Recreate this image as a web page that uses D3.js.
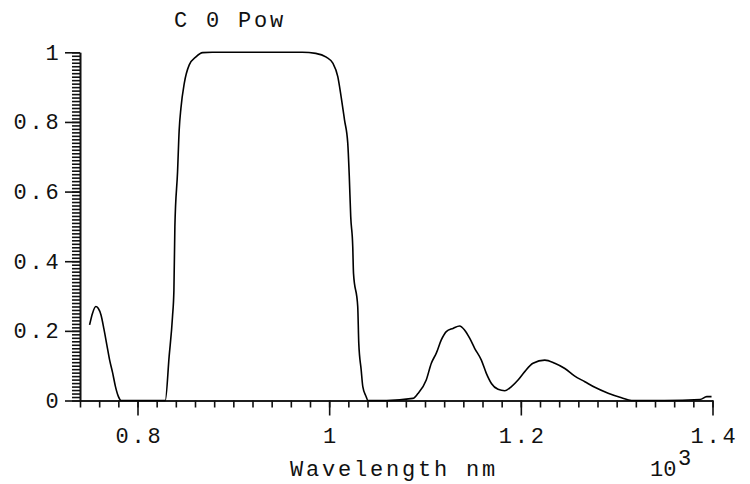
<!DOCTYPE html>
<html>
<head>
<meta charset="utf-8">
<script src="https://cdn.jsdelivr.net/npm/d3@7"></script>
<style>
  body { margin: 0; background: #fff; }
  text { font-family: "Liberation Mono", "Courier New", monospace; fill: #111; }
</style>
</head>
<body>
<div class="chart"></div>
<script>
// Spectral power curve (wavelength in units of 10^3 nm)

// Data
var wavelength = [0.75, 0.753, 0.7565, 0.759, 0.762, 0.765, 0.768, 0.771, 0.774, 0.777, 0.78, 0.783,
  0.80, 0.829, 0.833, 0.8365, 0.838, 0.839, 0.8418, 0.8435, 0.8453, 0.8488, 0.854, 0.861, 0.868, 0.878,
  0.93, 0.972, 0.986, 0.997, 1.004, 1.009, 1.0125, 1.016, 1.0194, 1.021, 1.0225, 1.0246, 1.0254, 1.0298,
  1.0309, 1.0334, 1.0351, 1.0386, 1.0403, 1.06, 1.0873, 1.0926, 1.1013, 1.1066, 1.1118, 1.117, 1.1222,
  1.1292, 1.1361, 1.1414, 1.1466, 1.1518, 1.1588, 1.164, 1.1693, 1.1762, 1.1832, 1.1902, 1.1971, 1.2041,
  1.2127, 1.225, 1.2354, 1.2459, 1.2563, 1.2668, 1.2772, 1.2911, 1.3051, 1.3155, 1.35, 1.387, 1.394, 1.399];
var power = [0.217, 0.25, 0.27, 0.265, 0.245, 0.205, 0.16, 0.115, 0.08, 0.04, 0.012, 0.0,
  0.0, 0.0, 0.126, 0.24, 0.317, 0.499, 0.657, 0.777, 0.839, 0.911, 0.964, 0.987, 0.999, 1.0,
  1.0, 1.0, 0.997, 0.986, 0.968, 0.93, 0.872, 0.806, 0.739, 0.643, 0.528, 0.442, 0.365, 0.27,
  0.164, 0.088, 0.04, 0.011, 0.0, 0.0, 0.006, 0.02, 0.059, 0.107, 0.136, 0.174, 0.198,
  0.207, 0.214, 0.202, 0.179, 0.15, 0.116, 0.078, 0.049, 0.032, 0.028, 0.04, 0.059, 0.083,
  0.107, 0.116, 0.107, 0.092, 0.07, 0.054, 0.038, 0.021, 0.008, 0.0, 0.0, 0.003, 0.011, 0.011];

var xMajorTicks = [0.8, 1.0, 1.2, 1.4];
var xTickLabels = ["0.8", "1", "1.2", "1.4"];
var yMajorTicks = [0, 0.2, 0.4, 0.6, 0.8, 1];
var yTickLabels = ["0", "0.2", "0.4", "0.6", "0.8", "1"];

var titleText = "C 0 Pow";
var xLabelText = "Wavelength nm";

var svgWidth = 750;
var svgHeight = 484;

var svg = d3.select(".chart")
  .append("svg")
  .attr("width", svgWidth)
  .attr("height", svgHeight);

svg.append("rect")
  .attr("width", svgWidth)
  .attr("height", svgHeight)
  .attr("fill", "#fff");

// Scales
var xLinearScale = d3.scaleLinear()
  .domain([0.74, 1.4])
  .range([80, 712.5]);

var yLinearScale = d3.scaleLinear()
  .domain([0, 1])
  .range([400.5, 52.3]);

var fontSize = 22;
var spacing = 2.8;

// Minor ticks
var xMinor = d3.range(0, 34).map(i => 0.74 + i * 0.02);
var yMinor = d3.range(0, 101).map(i => i * 0.01);

svg.append("g")
  .attr("class", "minor")
  .attr("transform", "translate(0, 400.5)")
  .call(d3.axisBottom(xLinearScale).tickValues(xMinor).tickSize(7).tickSizeOuter(0).tickFormat(""));

svg.append("g")
  .attr("class", "minor")
  .attr("transform", "translate(80, 0)")
  .call(d3.axisLeft(yLinearScale).tickValues(yMinor).tickSize(8).tickSizeOuter(0).tickFormat(""));

// Major ticks with labels
var xAxis = svg.append("g")
  .attr("transform", "translate(0, 400.5)")
  .call(d3.axisBottom(xLinearScale)
    .tickValues(xMajorTicks)
    .tickSize(15)
    .tickSizeOuter(0)
    .tickPadding(12)
    .tickFormat((d, i) => xTickLabels[i]));

var yAxis = svg.append("g")
  .attr("transform", "translate(80, 0)")
  .call(d3.axisLeft(yLinearScale)
    .tickValues(yMajorTicks)
    .tickSize(15)
    .tickSizeOuter(0)
    .tickPadding(3.5)
    .tickFormat((d, i) => yTickLabels[i]));

svg.selectAll(".domain, .tick line")
  .attr("stroke", "#111")
  .attr("stroke-width", 1.6);

svg.selectAll(".tick text")
  .attr("font-family", "Liberation Mono")
  .attr("font-size", fontSize)
  .attr("letter-spacing", spacing)
  .attr("fill", "#111");

xAxis.selectAll(".tick text").attr("dx", spacing / 2);

// Curve
var points = wavelength.map((w, i) => [w, power[i]]);

var line = d3.line()
  .x(d => xLinearScale(d[0]))
  .y(d => yLinearScale(d[1]))
  .curve(d3.curveMonotoneX);

svg.append("path")
  .datum(points)
  .attr("fill", "none")
  .attr("stroke", "#000")
  .attr("stroke-width", 1.6)
  .attr("d", line);

// Title and labels
svg.append("text")
  .attr("x", 174)
  .attr("y", 27)
  .attr("font-size", fontSize)
  .attr("letter-spacing", spacing)
  .attr("xml:space", "preserve")
  .text(titleText);

svg.append("text")
  .attr("x", 290)
  .attr("y", 476)
  .attr("font-size", fontSize)
  .attr("letter-spacing", spacing)
  .attr("xml:space", "preserve")
  .text(xLabelText);

// exponent label, base and raised 3 as separate texts
svg.append("text")
  .attr("x", 650)
  .attr("y", 476)
  .attr("font-size", fontSize)
  .text("10");

svg.append("text")
  .attr("x", 678)
  .attr("y", 465)
  .attr("font-size", fontSize)
  .text("3");
</script>
</body>
</html>
